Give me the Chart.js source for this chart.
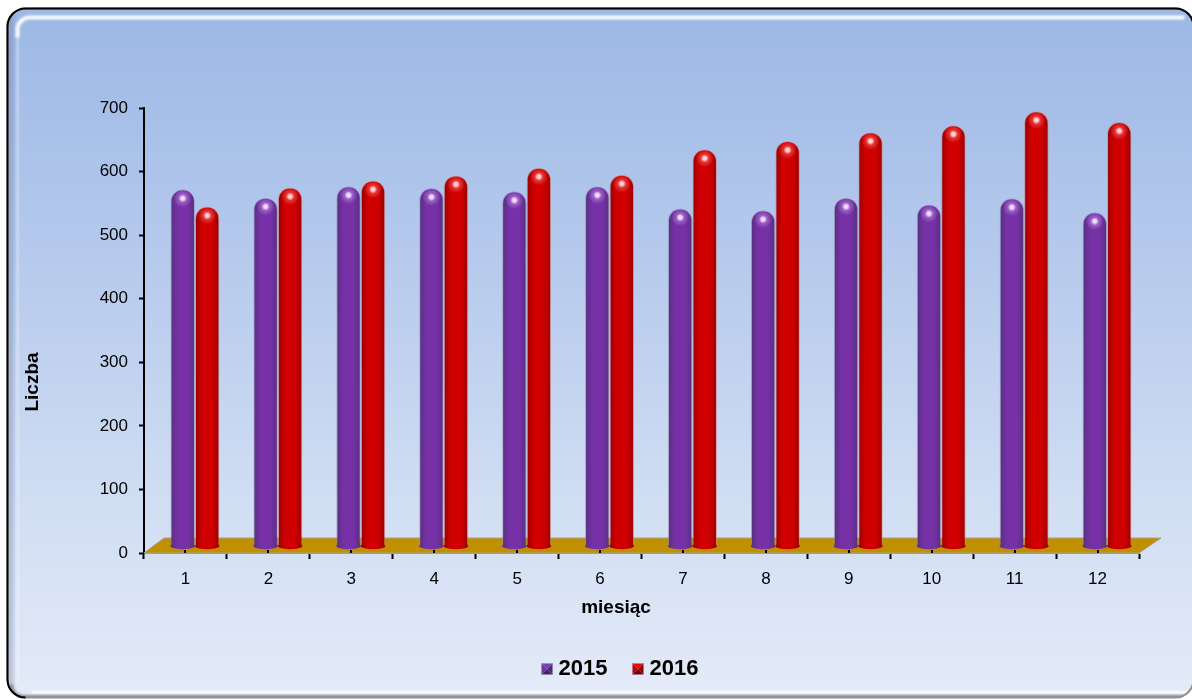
<!DOCTYPE html>
<html><head><meta charset="utf-8">
<style>html,body{margin:0;padding:0;background:#fff}#wrap{width:1192px;height:699px;position:relative}</style>
<script src="https://cdn.jsdelivr.net/npm/chart.js@4"></script></head>
<body><div id="wrap"><canvas id="c" width="1192" height="699"></canvas></div>
<script>
const categories = ['1','2','3','4','5','6','7','8','9','10','11','12'];
const seriesNames = ['2015','2016'];
const values2015 = [561,548,566,563,558,566,531,528,548,537,547,525];
const values2016 = [534,564,575,583,595,584,624,637,651,662,684,667];
const xAxisTitle = 'miesiąc';
const yAxisTitle = 'Liczba';

const FONT = '"Liberation Sans", Arial, sans-serif';
const SHIFT_X = 9.5, SHIFT_Y = -7, BAR_W = 24.5;
const palettes = [
  {edge:'#553080', mid:'#7631a6', glow:'#f6e2ff', halo:'#c79ae8', mark:['#7d3fb4','#6a35a0','#4a2a78','#3f2363']},
  {edge:'#980000', mid:'#d00000', glow:'#ffdcdc', halo:'#ff7a7a', mark:['#e80808','#c80000','#900000','#6e0000']}
];
function barGradient(g, left, p){
  const gr = g.createLinearGradient(left,0,left+BAR_W,0);
  gr.addColorStop(0,p.edge); gr.addColorStop(.3,p.mid); gr.addColorStop(.7,p.mid); gr.addColorStop(1,p.edge);
  return gr;
}
function scriptedFill(dsIndex){
  return c=>{
    const s=c.chart.scales.x;
    if(!s||c.dataIndex===undefined) return palettes[dsIndex].mid;
    const left=s.getPixelForValue(c.dataIndex)+(dsIndex===0?-BAR_W:0);
    if(!isFinite(left)) return palettes[dsIndex].mid;
    return barGradient(c.chart.ctx,left,palettes[dsIndex]);
  };
}
function markIcon(p){
  const cv=document.createElement('canvas'); cv.width=12; cv.height=12;
  const g=cv.getContext('2d');
  const tri=(pts,col)=>{g.fillStyle=col;g.beginPath();pts.forEach((q,i)=>i?g.lineTo(q[0],q[1]):g.moveTo(q[0],q[1]));g.closePath();g.fill();};
  tri([[0,0],[12,0],[6,6]],p.mark[0]);
  tri([[0,12],[0,0],[6,6]],p.mark[1]);
  tri([[12,0],[12,12],[6,6]],p.mark[2]);
  tri([[12,12],[0,12],[6,6]],p.mark[3]);
  g.strokeStyle='rgba(190,170,200,.7)';g.strokeRect(.5,.5,11,11);
  return cv;
}
const panelPlugin={id:'panel',
 afterLayout(ch){
  // centre the legend under the full panel rather than under the padded box
  ch.legend.left+=8; ch.legend.right+=8;
 },
 beforeDraw(ch){
  const g=ch.ctx;
  g.save();
  const x=7.5,y=8.5,w=1186,h=689,r=18;
  const path=(a,b,c,d,rad)=>{g.beginPath();g.roundRect(a,b,c,d,rad);};
  path(x,y,w,h,r);
  const gr=g.createLinearGradient(0,y,0,y+h);
  gr.addColorStop(0,'#9db8e5');gr.addColorStop(.33,'#b3c8ec');gr.addColorStop(.67,'#cddbf2');gr.addColorStop(1,'#e4ebf8');
  g.fillStyle=gr;g.fill();
  g.save();path(x,y,w,h,r);g.clip();
  // soft bevel inside the frame
  g.filter='blur(2px)';
  g.strokeStyle='rgba(105,120,160,.42)';g.lineWidth=5;
  g.beginPath();g.moveTo(x+3,y+h);g.lineTo(x+3,y);g.stroke();
  g.filter='blur(1.2px)';
  g.strokeStyle='rgba(255,255,255,.95)';g.lineWidth=4;
  const iy=y+9, ix=x+10, ir=12;
  g.beginPath();g.moveTo(ix,iy+ir+8);g.arcTo(ix,iy,ix+ir,iy,ir);g.lineTo(x+w-9,iy);g.stroke();
  g.strokeStyle='rgba(255,255,255,.45)';g.lineWidth=2;
  g.beginPath();g.moveTo(ix,iy+ir+6);g.lineTo(ix,y+h-14);g.stroke();
  g.strokeStyle='rgba(255,255,255,.85)';g.lineWidth=3;
  g.beginPath();g.moveTo(x+24,y+h-5);g.lineTo(x+w-4,y+h-5);g.stroke();
  g.strokeStyle='rgba(125,125,135,.9)';g.lineWidth=3;
  g.beginPath();g.moveTo(x+4,y+h-12);g.arcTo(x+4,y+h-1,x+18,y+h-1,12);g.lineTo(x+w,y+h-1);g.stroke();
  g.filter='none';
  g.restore();
  g.strokeStyle='#909090';g.lineWidth=2;path(x,y,w,h,r);g.stroke();
  g.beginPath();g.moveTo(x+w,y+r);g.arcTo(x+w,y,x+w-r,y,r);g.lineTo(x+r,y);g.arcTo(x,y,x,y+r,r);g.lineTo(x,y+h-r);g.arcTo(x,y+h,x+r,y+h,r);
  g.strokeStyle='#000';g.lineWidth=2;g.stroke();
  g.restore();
}};
const depthPlugin={id:'depth',
  beforeDatasetsDraw(ch){
    const g=ch.ctx,{x,y}=ch.scales,a=ch.chartArea,y0=y.getPixelForValue(0);
    g.save();
    g.beginPath();g.moveTo(a.left,y0);g.lineTo(a.left+20,y0-15);g.lineTo(a.right+22,y0-15);g.lineTo(a.right,y0);g.closePath();
    g.fillStyle='#c09000';g.fill();g.strokeStyle='#a8a08a';g.lineWidth=1;g.stroke();
    g.restore();
    g.save();g.translate(SHIFT_X,SHIFT_Y);
  },
  afterDatasetDraw(ch,args){
    const g=ch.ctx,p=palettes[args.index],base=ch.scales.y.getPixelForValue(0);
    args.meta.data.forEach(b=>{
      const l=b.x-b.width/2;
      g.save();
      g.beginPath();g.ellipse(b.x,base,b.width/2,3.2,0,0,Math.PI*2);
      g.fillStyle=barGradient(g,l,p);g.fill();
      const hy=b.y+9;
      const halo=g.createRadialGradient(b.x,hy,0,b.x,hy,9);
      halo.addColorStop(0,p.halo+'cc');halo.addColorStop(1,p.halo+'00');
      g.fillStyle=halo;g.beginPath();g.arc(b.x,hy,9,0,Math.PI*2);g.fill();
      const rg=g.createRadialGradient(b.x,hy,.5,b.x,hy,4);
      rg.addColorStop(0,p.glow);rg.addColorStop(.4,p.glow+'cc');rg.addColorStop(1,p.glow+'00');
      g.fillStyle=rg;g.beginPath();g.arc(b.x,hy,4,0,Math.PI*2);g.fill();
      g.restore();
    });
  },
  afterDatasetsDraw(ch){
    const g=ch.ctx,{x,y}=ch.scales,y0=y.getPixelForValue(0);
    g.restore();
    g.save();g.fillStyle='#000';
    categories.forEach((_,i)=>{g.fillRect(Math.round(x.getPixelForValue(i))-1,y0-3,2,3);});
    g.restore();
  },
  afterDraw(ch){
    const g=ch.ctx;
    g.save();
    g.fillStyle='#000';g.font='bold 19px '+FONT;g.textAlign='center';g.textBaseline='middle';
    g.fillText(xAxisTitle,616,608);
    g.translate(33,382);g.rotate(-Math.PI/2);
    g.fillText(yAxisTitle,0,0);
    g.restore();
  }
};
new Chart(document.getElementById('c'),{
  type:'bar',
  data:{labels:categories,datasets:[
    {label:seriesNames[0],data:values2015,backgroundColor:scriptedFill(0),borderColor:'rgba(150,135,180,.6)',borderWidth:1,borderSkipped:'bottom',borderRadius:{topLeft:12,topRight:12},pointStyle:markIcon(palettes[0])},
    {label:seriesNames[1],data:values2016,backgroundColor:scriptedFill(1),borderColor:'rgba(205,130,130,.6)',borderWidth:1,borderSkipped:'bottom',borderRadius:{topLeft:12,topRight:12},pointStyle:markIcon(palettes[1])}
  ]},
  plugins:[panelPlugin,depthPlugin],
  options:{
    responsive:false,animation:false,
    layout:{padding:{top:108,right:53,left:90,bottom:9}},
    datasets:{bar:{categoryPercentage:49/82.9,barPercentage:1}},
    plugins:{
      tooltip:{enabled:false},
      legend:{position:'bottom',labels:{usePointStyle:true,pointStyleWidth:1,color:'#000',font:{family:FONT,size:22,weight:'bold'},padding:30,boxHeight:12}}
    },
    scales:{
      x:{
        offset:true,
        afterFit(s){s.height=75;},
        grid:{offset:true,drawOnChartArea:false,drawTicks:true,tickLength:6,tickColor:'#000',tickWidth:2},
        border:{display:true,color:'#9a9a9a',width:2},
        ticks:{color:'#000',font:{family:FONT,size:17},padding:10,maxRotation:0,autoSkip:false}
      },
      y:{
        min:0,max:700,
        afterFit(s){s.width=54;},
        grid:{drawOnChartArea:false,tickLength:5,tickColor:'#000',tickWidth:2},
        border:{display:true,color:'#000',width:2},
        ticks:{stepSize:100,color:'#000',font:{family:FONT,size:17},padding:11}
      }
    }
  }
});
</script></body></html>
